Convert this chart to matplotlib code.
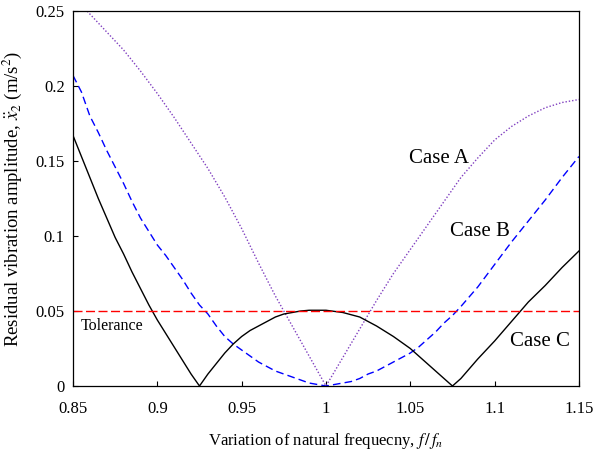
"""
Residual vibration amplitude against natural frequency variation.
"""

import matplotlib
matplotlib.use('Agg')
import matplotlib.pyplot as plt

plt.rcParams['font.family'] = ['Liberation Serif', 'DejaVu Serif']
plt.rcParams['mathtext.fontset'] = 'stix'

# Case A (dotted purple)
freq_a = [0.85, 0.86, 0.87, 0.88, 0.89, 0.90, 0.91, 0.92, 0.93, 0.94,
          0.95, 0.96, 0.97, 0.98, 0.99, 1.00, 1.01, 1.02, 1.03, 1.04,
          1.05, 1.06, 1.07, 1.08, 1.09, 1.10, 1.11, 1.12, 1.13, 1.14, 1.15]
amp_a = [0.260, 0.248, 0.236, 0.224, 0.210, 0.195, 0.179, 0.162, 0.145,
         0.126, 0.105, 0.082, 0.060, 0.040, 0.020, 0.000, 0.019, 0.038,
         0.057, 0.075, 0.091, 0.107, 0.123, 0.139, 0.152, 0.164, 0.173,
         0.180, 0.1855, 0.189, 0.191]

# Case B (dashed blue)
freq_b = [0.850, 0.855, 0.860, 0.865, 0.870, 0.875, 0.880, 0.885, 0.890,
          0.895, 0.900, 0.905, 0.910, 0.915, 0.920, 0.925, 0.930, 0.935,
          0.940, 0.945, 0.950, 0.955, 0.960, 0.965, 0.970, 0.975, 0.980,
          0.985, 0.990, 0.995, 1.000, 1.005, 1.010, 1.015, 1.020, 1.025,
          1.030, 1.035, 1.040, 1.045, 1.050, 1.055, 1.060, 1.065, 1.070,
          1.075, 1.080, 1.090, 1.100, 1.110, 1.120, 1.130, 1.140, 1.150]
amp_b = [0.207, 0.196, 0.180, 0.169, 0.157, 0.146, 0.135, 0.123, 0.112,
         0.103, 0.094, 0.087, 0.079, 0.071, 0.062, 0.054, 0.048, 0.040,
         0.033, 0.028, 0.024, 0.020, 0.016, 0.013, 0.010, 0.008, 0.006,
         0.004, 0.002, 0.001, 0.000, 0.001, 0.002, 0.003, 0.005, 0.008,
         0.010, 0.013, 0.016, 0.019, 0.022, 0.026, 0.031, 0.036, 0.042,
         0.047, 0.053, 0.066, 0.081, 0.096, 0.110, 0.124, 0.139, 0.153]

# Case C (solid black)
freq_c = [0.850, 0.855, 0.860, 0.865, 0.870, 0.875, 0.880, 0.885, 0.890,
          0.895, 0.900, 0.905, 0.910, 0.915, 0.920, 0.925, 0.930, 0.935,
          0.940, 0.945, 0.950, 0.955, 0.960, 0.965, 0.970, 0.975, 0.980,
          0.985, 0.990, 1.000, 1.010, 1.020, 1.030, 1.040, 1.050, 1.060,
          1.070, 1.075, 1.080, 1.090, 1.100, 1.110, 1.120, 1.130, 1.140,
          1.150]
amp_c = [0.167, 0.153, 0.139, 0.125, 0.112, 0.099, 0.088, 0.076, 0.065,
         0.054, 0.044, 0.035, 0.026, 0.017, 0.008, 0.000, 0.008, 0.015,
         0.022, 0.028, 0.033, 0.037, 0.040, 0.043, 0.046, 0.048, 0.049,
         0.050, 0.0505, 0.0505, 0.049, 0.046, 0.040, 0.033, 0.025, 0.015,
         0.005, 0.000, 0.005, 0.018, 0.030, 0.043, 0.056, 0.067, 0.079,
         0.090]

tolerance = 0.05
x_ticks = [0.85, 0.9, 0.95, 1.0, 1.05, 1.1, 1.15]
x_tick_labels = ['0.85', '0.9', '0.95', '1', '1.05', '1.1', '1.15']
y_ticks = [0, 0.05, 0.1, 0.15, 0.2, 0.25]
y_tick_labels = ['0', '0.05', '0.1', '0.15', '0.2', '0.25']


def main():
    fig = plt.figure(figsize=(5.95, 4.51), dpi=100)
    ax = fig.add_axes([0.1227, 0.1441, 0.8503, 0.8315])

    ax.plot(freq_a, amp_a, color='#8040c0', lw=1.0, dashes=(1.0, 1.4))
    ax.plot(freq_b, amp_b, color='#0000ff', lw=1.0, dashes=(5.5, 3.0))
    ax.plot(freq_c, amp_c, color='black', lw=1.0)
    ax.plot([x_ticks[0], x_ticks[-1]], [tolerance, tolerance],
            color='#ff0000', lw=1.0, dashes=(6.5, 2.5))

    ax.text(1.067, 0.152, 'Case A', fontsize=15, ha='center', va='center')
    ax.text(1.0913, 0.1033, 'Case B', fontsize=15, ha='center', va='center')
    ax.text(1.127, 0.030, 'Case C', fontsize=15, ha='center', va='center')
    ax.text(0.8545, 0.040, 'Tolerance', fontsize=11.5, ha='left',
            va='center')

    ax.set_xlim(0.85, 1.15)
    ax.set_ylim(0, 0.25)
    ax.set_xticks(x_ticks)
    ax.set_xticklabels(x_tick_labels)
    ax.set_yticks(y_ticks)
    ax.set_yticklabels(y_tick_labels)
    ax.tick_params(direction='in', length=3.6, width=0.8, labelsize=12,
                   pad=6)
    ax.tick_params(axis='x', pad=11)
    for spine in ax.spines.values():
        spine.set_linewidth(0.9)

    ax.set_xlabel(r'Variation of natural frequecny, $f\,/\,f_n$',
                  fontsize=12, labelpad=10)
    ax.set_ylabel(r'Residual vibration amplitude, $\ddot{x}_2$ (m/s$^2$)',
                  fontsize=13.5, labelpad=8)

    fig.savefig('out.png', dpi=100)
    plt.close('all')


if __name__ == '__main__':
    main()
